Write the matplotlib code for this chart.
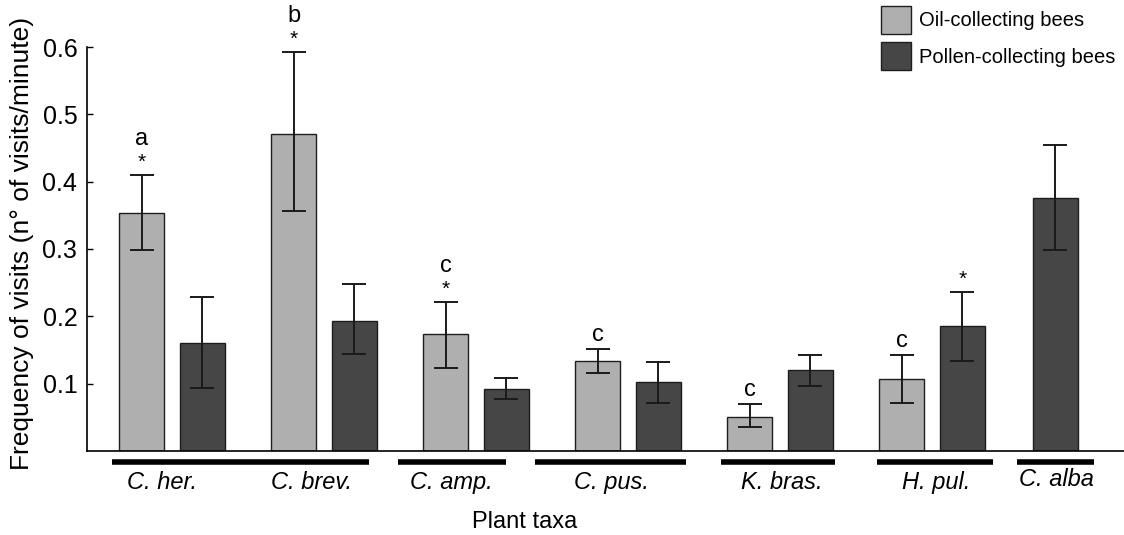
import numpy as np
import matplotlib
matplotlib.use("Agg")
import matplotlib.pyplot as plt
from matplotlib.patches import Patch

plt.rcParams['font.family'] = ['Liberation Sans', 'DejaVu Sans']

# data
taxa = ["C. her.", "C. brev.", "C. amp.", "C. pus.", "K. bras.", "H. pul."]
oil_mean = [0.354, 0.471, 0.174, 0.133, 0.050, 0.107]
oil_low = [0.298, 0.356, 0.123, 0.116, 0.036, 0.072]
oil_high = [0.410, 0.593, 0.222, 0.151, 0.070, 0.142]
pollen_mean = [0.161, 0.193, 0.092, 0.102, 0.120, 0.186]
pollen_low = [0.094, 0.144, 0.077, 0.072, 0.096, 0.134]
pollen_high = [0.229, 0.248, 0.108, 0.132, 0.143, 0.236]
alba_label = "C. alba"
alba_mean = 0.376
alba_low = 0.298
alba_high = 0.455
oil_letters = ["a", "b", "c", "c", "c", "c"]
oil_star = [True, True, True, False, False, False]
pollen_star = [False, False, False, False, False, True]

OIL_C = "#afafaf"
POL_C = "#464646"
EDGE = "#1e1e1e"

fig = plt.figure(figsize=(11.24, 5.35), dpi=100)
W, H = 1124, 535
ax = fig.add_axes([87 / W, (H - 451) / H, 1 - 87 / W, (451 - 47) / H])

x = np.arange(len(taxa))
x_alba = 5.81   # last taxon sits closer to H. pul.
off = 0.2
bw = 0.296
err_kw = dict(ecolor="#1a1a1a", elinewidth=1.4, capsize=8.3, capthick=1.4)

oil_mean = np.array(oil_mean)
pollen_mean = np.array(pollen_mean)
oil_err = [oil_mean - np.array(oil_low), np.array(oil_high) - oil_mean]
pol_err = [pollen_mean - np.array(pollen_low), np.array(pollen_high) - pollen_mean]

ax.bar(x - off, oil_mean, bw, color=OIL_C, edgecolor=EDGE, linewidth=1.0,
       yerr=oil_err, error_kw=err_kw, zorder=2)
ax.bar(x + off, pollen_mean, bw, color=POL_C, edgecolor=EDGE, linewidth=1.0,
       yerr=pol_err, error_kw=err_kw, zorder=2)
ax.bar([x_alba], [alba_mean], bw, color=POL_C, edgecolor=EDGE, linewidth=1.0,
       yerr=[[alba_mean - alba_low], [alba_high - alba_mean]], error_kw=err_kw, zorder=2)

# significance marks
for i in range(len(taxa)):
    top = oil_high[i]
    if oil_star[i]:
        ax.annotate("*", (x[i] - off, top), xytext=(0, 3), textcoords="offset pixels",
                    ha="center", va="bottom", fontsize=15)
        ax.annotate(oil_letters[i], (x[i] - off, top), xytext=(0, 25), textcoords="offset pixels",
                    ha="center", va="bottom", fontsize=17)
    else:
        ax.annotate(oil_letters[i], (x[i] - off, top), xytext=(0, 3), textcoords="offset pixels",
                    ha="center", va="bottom", fontsize=17)
    if pollen_star[i]:
        ax.annotate("*", (x[i] + off, pollen_high[i]), xytext=(0, 3), textcoords="offset pixels",
                    ha="center", va="bottom", fontsize=15)

ax.set_xlim(-0.559, 6.263)
ax.set_ylim(0, 0.6)
ax.set_yticks([0.1, 0.2, 0.3, 0.4, 0.5, 0.6])
ax.set_yticklabels(["0.1", "0.2", "0.3", "0.4", "0.5", "0.6"])
ax.tick_params(axis="y", direction="in", length=4, width=1, labelsize=18, pad=7)
ax.set_xticks([])
for s in ["top", "right"]:
    ax.spines[s].set_visible(False)
ax.spines["left"].set_linewidth(1.2)
ax.spines["bottom"].set_linewidth(1.2)

# taxon underlines and labels below the axis
trans = ax.get_xaxis_transform()
spans = [(-0.397, 1.294), (1.487, 2.197), (2.388, 3.38), (3.612, 4.362),
         (4.636, 5.401), (5.559, 6.066)]
for a, b in spans:
    ax.plot([a, b], [-0.027, -0.027], color="black", lw=4, transform=trans,
            clip_on=False, solid_capstyle="butt")
label_x = [-0.066, 0.92, 1.84, 2.89, 4.01, 5.03]
for lx, name in zip(label_x, taxa):
    ax.text(lx, -0.078, name, transform=trans, ha="center", va="center",
            fontsize=17, style="italic")
ax.text(5.82, -0.07, alba_label, transform=trans, ha="center", va="center",
        fontsize=17, style="italic")

fig.text(525 / W, 1 - 522 / H, "Plant taxa", ha="center", va="center", fontsize=17)
fig.text(22 / W, 1 - 243 / H, "Frequency of visits (n° of visits/minute)",
         rotation=90, ha="center", va="center", fontsize=19)

handles = [Patch(facecolor=OIL_C, edgecolor=EDGE), Patch(facecolor=POL_C, edgecolor=EDGE)]
fig.legend(handles, ["Oil-collecting bees", "Pollen-collecting bees"],
           loc="upper left", bbox_to_anchor=(881 / W, 1 - 6 / H), frameon=False,
           fontsize=14.5, handlelength=1.5, handleheight=1.75, labelspacing=0.42,
           handletextpad=0.4, borderpad=0, borderaxespad=0)

fig.savefig("out.png", dpi=100)
